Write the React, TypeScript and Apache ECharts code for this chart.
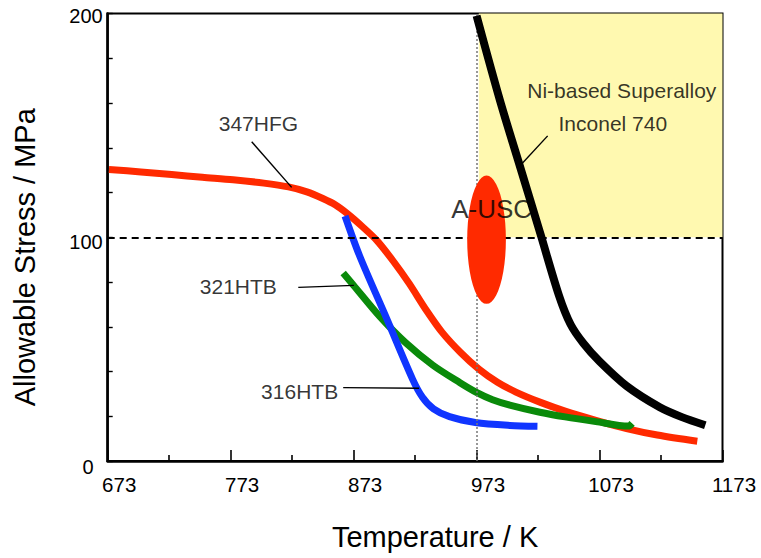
import React, { useEffect, useRef } from "react";
import * as echarts from "echarts";

// Temperature (K) / allowable stress (MPa)
const hfg347: [number, number][] = [
  [674, 130.3], [700, 129.2], [725, 128.0], [750, 126.8], [775, 125.7],
  [800, 124.2], [820, 122.5], [835, 120.3], [848, 117.3], [858, 114.5],
  [868, 110.5], [880, 104.8], [892, 98.5], [905, 89.5], [918, 79.5],
  [932, 67.5], [945, 57.5], [960, 48.5], [975, 41.0], [990, 35.2],
  [1005, 30.8], [1025, 26.2], [1045, 22.3], [1070, 18.2], [1095, 14.5],
  [1120, 11.6], [1152.5, 8.8],
];
const htb321: [number, number][] = [
  [864.5, 84.0], [872.7, 78.7], [894.4, 64.5], [915, 53.0], [937.5, 42.8],
  [959.5, 35.0], [972.5, 30.8], [986, 27.4], [1000, 25.0], [1024.5, 21.8],
  [1045, 19.7], [1070, 17.6], [1096.5, 15.6], [1099.5, 16.8],
];
const htb316: [number, number][] = [
  [866, 109.5], [878, 91.5], [900, 63.5], [921, 36.5], [929, 28.5],
  [938, 23.3], [951, 19.8], [972, 17.2], [1000, 15.9], [1022.5, 15.5],
];
const inconel740: [number, number][] = [
  [973, 199], [992, 161.2], [1008.5, 131.3], [1025, 101.4], [1040, 74],
  [1049.5, 61], [1060, 52.5], [1073, 44.5], [1095, 33.5], [1122, 24],
  [1140, 19.6], [1159, 16],
];

const xTicks = [673, 773, 873, 973, 1073, 1173];
const yTicks = [0, 100, 200];

// A-USC target region
const auscCenter: [number, number] = [981.1, 98.9];
const auscTemperature = 973;
const stressLimit = 100;
const superalloyRegion: [[number, number], [number, number]] = [
  [974.8, 100],
  [1173, 200],
];

// annotation texts and their anchors (data coordinates)
const noteTexts = ["347HFG", "321HTB", "316HTB", "Ni-based Superalloy", "Inconel 740"];
const noteAnchors: [number, number][] = [
  [795.6, 150.9], [779.2, 77.9], [829.1, 31.0], [1091.1, 165.7], [1083.8, 150.7],
];
const leaderLines: [number, number][][] = [
  [[790.1, 142.7], [822.6, 122.3]],
  [[828.0, 77.6], [873.2, 78.5]],
  [[864.5, 32.8], [926.3, 32.5]],
  [[1030.8, 145.3], [1008.5, 132.1]],
];
const auscLabel = "A-USC";
const auscLabelAnchor: [number, number] = [985.2, 112.5];

const FONT = "'Liberation Sans', Arial, Helvetica, sans-serif";

export default function App() {
  const ref = useRef<HTMLDivElement>(null);

  useEffect(() => {
    document.body.style.margin = "0";
    if (!ref.current) return;
    const chart = echarts.init(ref.current, null, { renderer: "svg" });

    const curve = (name: string, data: [number, number][], color: string, width: number, z: number) => ({
      name,
      type: "line",
      data,
      smooth: 0.3,
      showSymbol: false,
      symbol: "none",
      z,
      lineStyle: { color, width, cap: "butt", join: "round" },
      silent: true,
    });

    const option: any = {
      animation: false,
      textStyle: { fontFamily: FONT },
      grid: {
        left: 107.7,
        right: 38.5,
        top: 13.5,
        bottom: 97,
        show: true,
        borderColor: "#000",
        borderWidth: 2,
        backgroundColor: "transparent",
      },
      xAxis: {
        type: "value",
        min: xTicks[0],
        max: xTicks[xTicks.length - 1],
        interval: 100,
        name: "Temperature / K",
        nameLocation: "middle",
        nameGap: 61,
        nameTextStyle: { fontSize: 29, color: "#000", fontFamily: FONT, padding: [0, 0, 0, 40], lineHeight: 29 },
        axisLine: { show: true, onZero: false, lineStyle: { color: "#000", width: 2.6 } },
        axisTick: { show: true, inside: true, length: 11, lineStyle: { color: "#000", width: 1.6 } },
        minorTick: { show: true, splitNumber: 2, length: 6, lineStyle: { color: "#000", width: 1.6 } },
        splitLine: { show: false },
        minorSplitLine: { show: false },
        axisLabel: {
          fontSize: 20.5,
          color: "#000",
          fontFamily: FONT,
          margin: 13,
          lineHeight: 21,
          padding: [0, 0, 0, 23],
          showMinLabel: true,
          showMaxLabel: true,
          hideOverlap: false,
          formatter: (v: number) => (xTicks.includes(v) ? String(v) : ""),
        },
      },
      yAxis: {
        type: "value",
        min: yTicks[0],
        max: yTicks[yTicks.length - 1],
        interval: 100,
        name: "Allowable Stress / MPa",
        nameLocation: "middle",
        nameGap: 68,
        nameRotate: 90,
        nameTextStyle: { fontSize: 29, color: "#000", fontFamily: FONT, padding: [0, 40, 0, 0], lineHeight: 29 },
        axisLine: { show: true, onZero: false, lineStyle: { color: "#000", width: 2.6 } },
        axisTick: { show: true, inside: true, length: 5, lineStyle: { color: "#000", width: 1.4 } },
        minorTick: { show: true, splitNumber: 5, length: 5, lineStyle: { color: "#000", width: 1.4 } },
        splitLine: { show: false },
        minorSplitLine: { show: false },
        axisLabel: {
          fontSize: 20,
          color: "#000",
          fontFamily: FONT,
          margin: 5,
          formatter: (v: number) => (v === 0 ? "{z|0}" : v === 200 ? "{t|" + v + "}" : "{n|" + v + "}"),
          rich: {
            z: { fontSize: 20, fontFamily: FONT, color: "#000", padding: [11, 9, 0, 0] },
            n: { fontSize: 20, fontFamily: FONT, color: "#000", padding: [10, 0, 0, 0] },
            t: { fontSize: 20, fontFamily: FONT, color: "#000", padding: [4, 0, 0, 0] },
          },
        },
      },
      series: [
        {
          name: "regions",
          type: "line",
          data: [],
          z: 1,
          silent: true,
          markArea: {
            silent: true,
            itemStyle: { color: "#fff9b0", borderWidth: 0 },
            data: [[{ coord: superalloyRegion[0] }, { coord: superalloyRegion[1] }]],
          },
          markLine: {
            silent: true,
            symbol: "none",
            label: { show: false },
            data: [
              { xAxis: auscTemperature, lineStyle: { color: "#777", width: 1.5, type: [2, 2] } },
              { yAxis: stressLimit, lineStyle: { color: "#000", width: 1.8, type: [7, 5] } },
            ],
          },
        },
        curve("347HFG", hfg347, "#ff2a00", 7, 2),
        curve("321HTB", htb321, "#0a8a0a", 7, 3),
        curve("316HTB", htb316, "#1035ff", 7, 4),
        {
          name: "A-USC",
          type: "scatter",
          data: [auscCenter],
          symbol: "circle",
          symbolSize: [38.7, 128.3],
          itemStyle: { color: "#ff2a00", opacity: 1 },
          z: 5,
          silent: true,
        },
        {
          name: "auscLabel",
          type: "scatter",
          data: [{ value: auscLabelAnchor, name: auscLabel }],
          symbolSize: 0,
          z: 6,
          silent: true,
          label: {
            show: true,
            position: "inside",
            formatter: "{b}",
            fontSize: 26,
            color: "#000",
            fontFamily: FONT,
          },
        },
        curve("Inconel 740", inconel740, "#000", 8, 7),
        ...leaderLines.map((seg, i) => ({
          name: "leader" + i,
          type: "line",
          data: seg,
          showSymbol: false,
          symbol: "none",
          z: 8,
          silent: true,
          lineStyle: { color: "#000", width: 1.4 },
        })),
        {
          name: "notes",
          type: "scatter",
          data: noteTexts.map((t, i) => ({ value: noteAnchors[i], name: t })),
          symbolSize: 0,
          z: 8,
          silent: true,
          label: {
            show: true,
            position: "inside",
            formatter: "{b}",
            fontSize: 21,
            color: "#000",
            fontFamily: FONT,
          },
        },
      ],
    };

    chart.setOption(option);
    return () => chart.dispose();
  }, []);

  return <div ref={ref} style={{ width: 761, height: 558 }} />;
}
